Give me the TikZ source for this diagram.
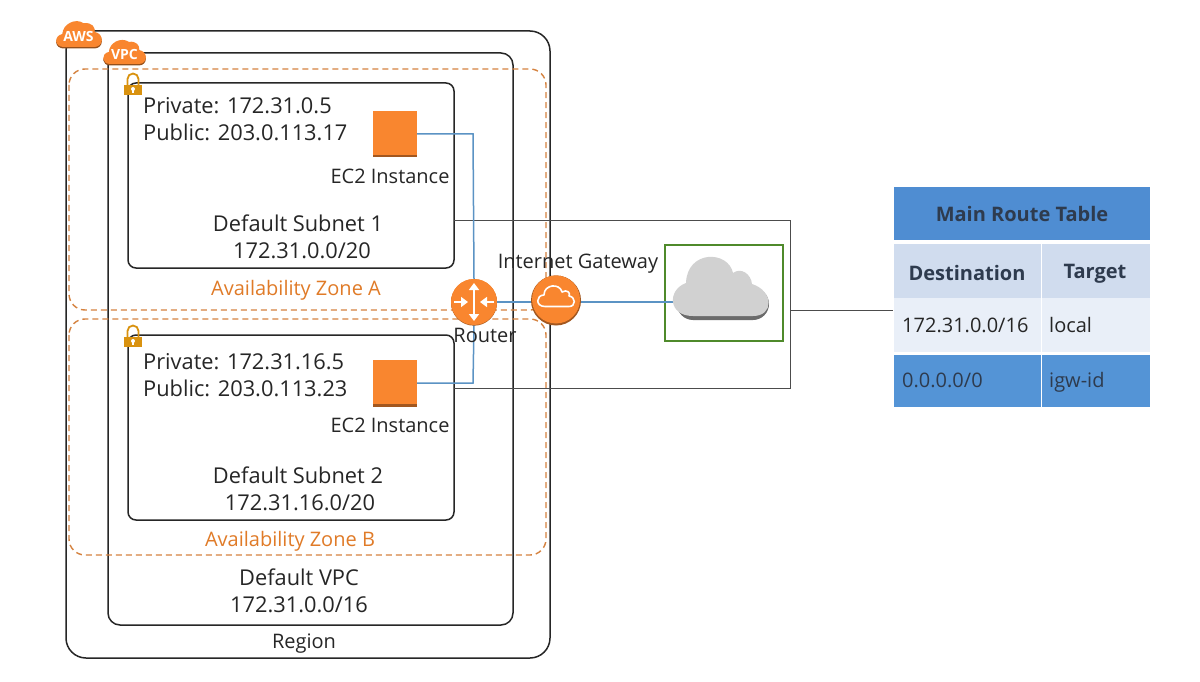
\documentclass[tikz,border=0pt]{standalone}
\usepackage{fontspec}
\setmainfont{Open Sans}
\usetikzlibrary{arrows.meta,calc}
\definecolor{awsorange}{HTML}{F9862F}
\definecolor{azorange}{HTML}{D5823F}
\definecolor{azlabel}{HTML}{E07B28}
\definecolor{linkblue}{HTML}{5B93C4}
\definecolor{boxgreen}{HTML}{4F8A2B}
\definecolor{hdrblue}{HTML}{4F8DD2}
\definecolor{rowa}{HTML}{D0DCEE}
\definecolor{rowb}{HTML}{E9EFF8}
\definecolor{rowc}{HTML}{5494D6}
\definecolor{darktxt}{HTML}{2E3B4E}
\definecolor{lockgold}{HTML}{D9920F}
\tikzset{
  x=1pt,y=-1pt,
  blackbox/.style={draw=black!85,line width=1.5pt,rounded corners=#1},
  azbox/.style={draw=azorange,line width=1.4pt,dash pattern=on 6pt off 4pt,rounded corners=16pt},
  lbl/.style={font=\fontsize{21.8}{25}\selectfont,text=black!85,inner sep=0pt,anchor=base},
  small/.style={font=\fontsize{20}{24}\selectfont,text=black!85,inner sep=0pt,anchor=base},
  azlbl/.style={font=\fontsize{20}{24}\selectfont,text=azlabel,inner sep=0pt,anchor=base},
  ec2/.style={draw=none,fill=awsorange,minimum width=44pt,minimum height=46pt,inner sep=0pt},
  ec2base/.style={fill=black!35!awsorange},
  tcell/.style={font=\fontsize{20}{24}\selectfont,inner sep=0pt,anchor=base west},
  thead/.style={font=\fontsize{20}{24}\selectfont\bfseries,text=darktxt,inner sep=0pt,anchor=base},
  gray link/.style={draw=black!70,line width=1pt},
  blue link/.style={draw=linkblue,line width=1.5pt},
  arrowwhite/.style={draw=white,line width=2pt,-{Triangle[length=7pt,width=10pt]}},
}
\newcommand{\lockicon}[2]{%
  \draw[lockgold,line width=1.8pt] (#1-5.5,#2+12) -- (#1-5.5,#2+6) arc[start angle=180,end angle=0,radius=5.5pt] -- (#1+5.5,#2+12);
  \fill[lockgold] (#1-9,#2+12) rectangle (#1+9,#2+22);
  \fill[white] (#1,#2+16) circle (2pt);
  \fill[white] (#1-1,#2+16) rectangle (#1+1,#2+20);
}
\newcommand{\awscloud}[4]{% x y w h : left,top
  \begin{scope}[shift={(#1,#2)},x=#3/100*1pt,y=-#4/100*1pt]
    \fill[black!40!awsorange,yshift=-1.5pt]
      (17,100) .. controls (-3,100) and (-6,62) .. (14,55) .. controls (14,22) and (42,-2) .. (60,18) .. controls (78,14) and (86,32) .. (84,48) .. controls (106,54) and (104,100) .. (83,100) -- cycle;
    \fill[awsorange]
      (17,100) .. controls (-3,100) and (-6,62) .. (14,55) .. controls (14,22) and (42,-2) .. (60,18) .. controls (78,14) and (86,32) .. (84,48) .. controls (106,54) and (104,100) .. (83,100) -- cycle;
  \end{scope}
}
\begin{document}
\begin{tikzpicture}
\useasboundingbox (0,0) rectangle (1200,682);
\fill[white] (0,0) rectangle (1200,682);
% containers
\draw[blackbox=20pt] (66,31) rectangle (550,658);
\draw[blackbox=12pt] (108,53) rectangle (513,625);
\draw[azbox] (69,69) rectangle (546,310);
\draw[azbox] (69,319) rectangle (546,555);
\draw[blackbox=8pt] (128,83) rectangle (454,268);
\draw[blackbox=8pt] (128,335) rectangle (454,520);
% anchors
\coordinate (s1out) at (454,220);
\coordinate (s2out) at (454,388);
\coordinate (cornerTop) at (790,220);
\coordinate (cornerBot) at (790,388);
\coordinate (joinMid) at (790,310);
\coordinate (tableIn) at (893,310);
\coordinate (blueTop) at (473,134);
\coordinate (blueBot) at (473,383);
% nodes
\node[ec2] (ec1) at (395,134) {};
\node[ec2] (ec2n) at (395,383) {};
\fill[ec2base] (373,155) rectangle (417,157.5);
\fill[ec2base] (373,404) rectangle (417,406.5);
\node[draw=boxgreen,line width=1.6pt,minimum width=118pt,minimum height=96pt,inner sep=0pt] (igwbox) at (724,293) {};
\node[circle,fill=awsorange,minimum size=46pt,inner sep=0pt] (router) at (474,302) {};
\node[circle,fill=awsorange,minimum size=48pt,inner sep=0pt] (igw) at (556,299.5) {};
% links
\draw[gray link] (s1out) -- (cornerTop) -- (cornerBot) -- (s2out);
\draw[gray link] (joinMid) -- (tableIn);
\draw[blue link] (ec1.east) -- (blueTop) -- (router.north);
\draw[blue link] (ec2n.east) -- (blueBot) -- (router.south);
\draw[blue link] (router.east |- 0,302) -- (igw.west |- 0,302);
\draw[blue link] (igw.east |- 0,302) -- (673,302);
% redraw discs above links
\fill[black!35!awsorange] (556,300.5) circle (25pt);
\fill[awsorange] (556,299.5) circle (24pt);
\fill[black!30!awsorange] (474,302.7) circle (23pt);
\fill[awsorange] (474,302) circle (23pt);
% router arrows
\draw[arrowwhite] (474,302) -- (474,283);
\draw[arrowwhite] (474,302) -- (474,321);
\draw[arrowwhite] (454,302) -- (468,302);
\draw[arrowwhite] (494,302) -- (480,302);
% igw icon
\draw[white,line width=1.6pt,line join=round]
  (545,306.5) .. controls (535,306.5) and (536,295) .. (544,295)
  .. controls (544,284) and (560,283) .. (562,292)
  .. controls (567,289) and (571,293) .. (569,296)
  .. controls (576,297) and (576,306.5) .. (569,306.5) -- cycle;
% big cloud
\fill[black!58] (693,304) circle (16pt) (753,304) circle (16pt) (693,304) rectangle (753,320);
\fill[black!18]
  (693,316) .. controls (668,316) and (667,290) .. (686,283)
  .. controls (687,250) and (728,250) .. (733,273)
  .. controls (741,267) and (751,274) .. (752,284)
  .. controls (774,291) and (774,316) .. (753,316) -- cycle;
% badges
\awscloud{56}{18}{46}{29}
\node[font=\fontsize{14}{16}\selectfont\bfseries,text=white,inner sep=0pt] (awslbl) at (78.5,37) {AWS};
\awscloud{103}{37}{43}{27}
\node[font=\fontsize{14}{16}\selectfont\bfseries,text=white,inner sep=0pt] (vpclbl) at (124.5,55) {VPC};
\lockicon{133}{73}
\lockicon{133}{325}
% labels
\node[lbl,anchor=base west] (p1) at (143,114) {Private: 172.31.0.5};
\node[lbl,anchor=base west] (p2) at (143,141) {Public: 203.0.113.17};
\node[lbl,anchor=base west] (p3) at (143,369) {Private: 172.31.16.5};
\node[lbl,anchor=base west] (p4) at (143,396) {Public: 203.0.113.23};
\node[small] (e1) at (390,183) {EC2 Instance};
\node[small] (e2) at (390,432) {EC2 Instance};
\node[lbl] (d1) at (298,231) {Default Subnet 1};
\node[lbl] (d1b) at (302,258) {172.31.0.0/20};
\node[lbl] (d2) at (298,483) {Default Subnet 2};
\node[lbl] (d2b) at (300,510) {172.31.16.0/20};
\node[azlbl] (za) at (296,295) {Availability Zone A};
\node[azlbl] (zb) at (290,546) {Availability Zone B};
\node[lbl] (v1) at (299,585) {Default VPC};
\node[lbl] (v2) at (299,612) {172.31.0.0/16};
\node[small] (reg) at (304,648) {Region};
\node[small] (igwl) at (578,268) {Internet Gateway};
\node[small] (rl) at (485,342) {Router};
% table
\fill[hdrblue] (894,187) rectangle (1150,240);
\fill[rowa] (894,244) rectangle (1150,298);
\fill[rowb] (894,298) rectangle (1150,352);
\fill[rowc] (894,355) rectangle (1150,407);
\fill[white] (1040.5,244) rectangle (1042,407);
\node[thead] (t0) at (1022,221) {Main Route Table};
\node[thead] (t1) at (967,280) {Destination};
\node[thead] (t2) at (1095,278) {Target};
\node[tcell,text=black!85] (c1) at (902,332) {172.31.0.0/16};
\node[tcell,text=black!85] (c2) at (1049,332) {local};
\node[tcell,text=darktxt] (c3) at (902,387) {0.0.0.0/0};
\node[tcell,text=darktxt] (c4) at (1049,387) {igw-id};
\end{tikzpicture}
\end{document}
